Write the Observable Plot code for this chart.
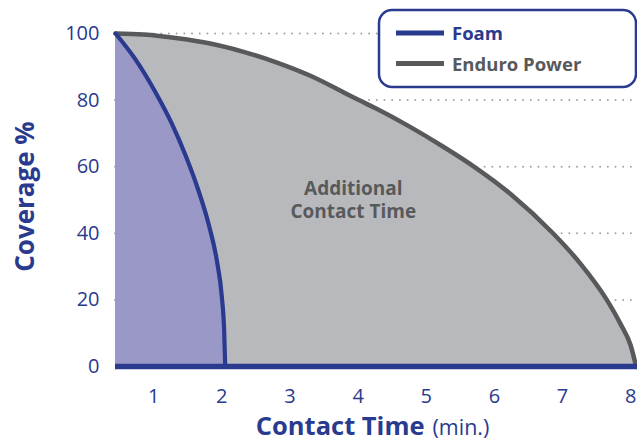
<!DOCTYPE html>
<html>
<head>
<meta charset="utf-8">
<script src="https://cdn.jsdelivr.net/npm/d3@7"></script>
<script src="https://cdn.jsdelivr.net/npm/@observablehq/plot@0.6"></script>
<style>
  html, body { margin: 0; padding: 0; background: #fff; }
  #chart { width: 637px; height: 441px; overflow: hidden; }
</style>
</head>
<body>
<div id="chart"></div>
<script>
// ---- Data ----
const foamTime     = [0.44, 0.73, 1.02, 1.27, 1.47, 1.65, 1.81, 1.93, 2.00, 2.035, 2.05];
const foamCoverage = [100, 92.3, 82.6, 72.8, 63.3, 53.3, 42.5, 31.5, 21.0, 10.5, 0];

const enduroTime     = [0.44, 0.85, 1.35, 1.83, 2.32, 2.82, 3.30, 3.79, 4.01, 4.25, 4.75, 5.25, 5.71, 6.25, 6.86, 7.25, 7.65, 7.85, 8.00, 8.08];
const enduroCoverage = [100, 99.7, 98.6, 97.0, 94.5, 91.2, 87.3, 82.3, 80.0, 77.6, 72.1, 66.0, 59.9, 51.6, 40.0, 31.2, 20.0, 12.8, 6.3, 0];

const xTicks = [1, 2, 3, 4, 5, 6, 7, 8];
const yTicks = [0, 20, 40, 60, 80, 100];
const gridValues = [20, 40, 60, 80, 100];

const seriesNames = ["Foam", "Enduro Power"];
const annotation = [{x: 3.93, y: 44.7, text: "Additional\nContact Time"}];
const yTitle = "Coverage %";
const xTitle = "Contact Time";
const xUnit = "(min.)";

// ---- Styles ----
const BLUE = "#293a8f";
const FOAM_FILL = "#9a98c7";
const GRAY_FILL = "#b8b9bc";
const ENDURO = "#58595b";
const GRID = "#a3a3a3";
const FONT = "Open Sans, sans-serif";

const foam = foamTime.map((t, i) => ({t, c: foamCoverage[i]}));
const enduro = enduroTime.map((t, i) => ({t, c: enduroCoverage[i]}));
const seriesColors = [BLUE, ENDURO];

function legend(index, scales, values, dim) {
  const g = d3.create("svg:g");
  g.append("rect")
    .attr("x", 379).attr("y", 10).attr("width", 257).attr("height", 77)
    .attr("rx", 13).attr("ry", 13)
    .attr("fill", "#fff").attr("stroke", BLUE).attr("stroke-width", 2.5);
  seriesNames.forEach((name, i) => {
    const cy = 33 + i * 30.5;
    g.append("line")
      .attr("x1", 396).attr("x2", 444).attr("y1", cy).attr("y2", cy)
      .attr("stroke", seriesColors[i]).attr("stroke-width", 5);
    g.append("text")
      .attr("x", 452).attr("y", cy + 7)
      .attr("text-anchor", "start")
      .attr("fill", seriesColors[i])
      .attr("font-family", FONT).attr("font-weight", "bold").attr("font-size", 18.5)
      .text(name);
  });
  return g.node();
}

const chart = Plot.plot({
  width: 637,
  height: 441,
  marginLeft: 115,
  marginRight: 0,
  marginTop: 33,
  marginBottom: 75,
  style: {fontFamily: FONT, fontSize: "20px", color: BLUE, background: "#fff", overflow: "visible"},
  x: {domain: [0.44, 8.1], ticks: xTicks, tickSize: 0, tickPadding: 22, label: null},
  y: {domain: [0, 100], ticks: yTicks, tickSize: 0, tickPadding: 16, label: null},
  marks: [
    Plot.ruleY(gridValues, {stroke: GRID, strokeWidth: 2, strokeDasharray: "0,7.7", strokeLinecap: "round"}),
    Plot.areaY(enduro, {x: "t", y: "c", fill: GRAY_FILL, curve: "monotone-x"}),
    Plot.areaY(foam, {x: "t", y: "c", fill: FOAM_FILL, curve: "monotone-x"}),
    Plot.lineY(enduro, {x: "t", y: "c", stroke: ENDURO, strokeWidth: 4.5, curve: "monotone-x"}),
    Plot.lineY(foam, {x: "t", y: "c", stroke: BLUE, strokeWidth: 4.2, curve: "monotone-x"}),
    Plot.ruleY([0], {stroke: BLUE, strokeWidth: 5.3}),
    Plot.text(annotation, {x: "x", y: "y", text: "text", fill: ENDURO, fontSize: 19, fontWeight: "bold", lineHeight: 1.17, lineAnchor: "bottom"}),
    Plot.text([yTitle], {frameAnchor: "left", dx: -82, dy: -3.5, rotate: -90, lineAnchor: "bottom", textAnchor: "middle", fill: BLUE, fontSize: 26, fontWeight: "bold"}),
    Plot.text([xTitle], {frameAnchor: "bottom", dx: 48, dy: 68, lineAnchor: "bottom", textAnchor: "end", fill: BLUE, fontSize: 25.5, fontWeight: "bold"}),
    Plot.text([xUnit], {frameAnchor: "bottom", dx: 56, dy: 68, lineAnchor: "bottom", textAnchor: "start", fill: BLUE, fontSize: 21.5}),
    legend
  ]
});

document.getElementById("chart").appendChild(chart);
</script>
</body>
</html>
